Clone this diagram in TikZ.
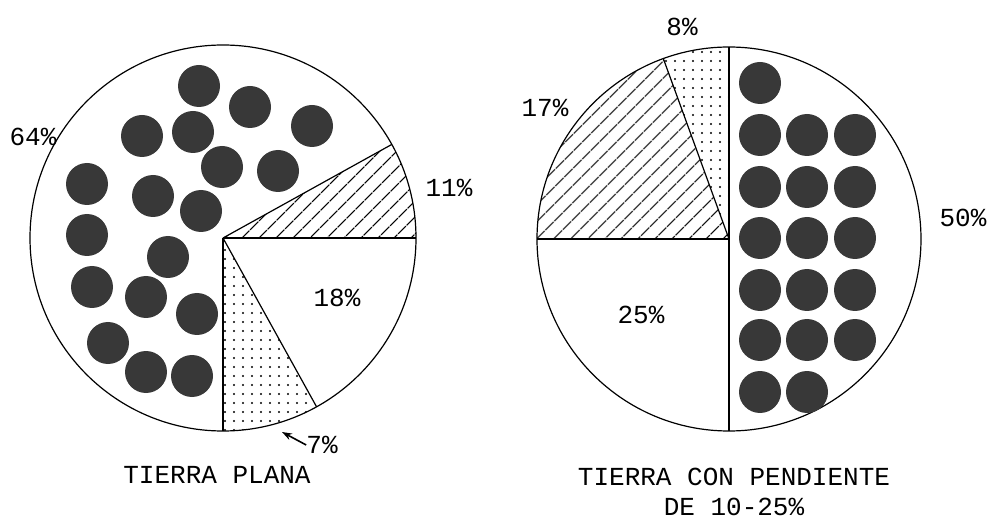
\documentclass[tikz,border=0pt]{standalone}
\usepackage{fontspec}
\newfontfamily\typefont{Liberation Mono}
\usetikzlibrary{patterns.meta, arrows.meta, positioning}

\begin{document}
\begin{tikzpicture}[x=1pt, y=1pt,
        wedge/.style={draw, line width=1.2pt},
        hatch/.style={pattern={Lines[angle=45, distance=13pt, line width=1.2pt]}},
        speckle/.style={pattern={Dots[distance=9pt, radius=1.15pt]}},
        ball/.style={fill=black!78},
        lbl/.style={font={\fontsize{26}{30}\selectfont\typefont}, inner sep=0pt},
        title/.style={lbl, align=center}
    ]
        \useasboundingbox (0,0) rectangle (988,520);

        % Tierra plana
        \coordinate (lc) at (223,282);
        \path[hatch] (lc) -- ++(0:193pt) arc (0:29:193pt) -- cycle;
        \path[speckle] (lc) -- ++(-90:193pt) arc (-90:-61:193pt) -- cycle;
        \draw[wedge] (lc) circle (193pt);
        \draw[wedge] (lc) -- ++(0:193pt);
        \draw[wedge] (lc) -- ++(29:193pt);
        \draw[wedge] (lc) -- ++(-61:193pt);
        \draw[wedge] (lc) -- ++(-90:193pt);
        \foreach \x/\y in {199/434, 250/413, 312/394, 142/384, 193/388, 222/353,
                278/349, 87/336, 153/324, 201/309, 87/285, 168/263,
                92/233, 146/223, 197/206, 108/177, 146/148, 192/144}
            \fill[ball] (\x,\y) circle (21pt);

        % Tierra con pendiente
        \coordinate (rc) at (729,281);
        \path[speckle] (rc) -- ++(90:192pt) arc (90:110:192pt) -- cycle;
        \path[hatch] (rc) -- ++(110:192pt) arc (110:180:192pt) -- cycle;
        \draw[wedge] (rc) circle (192pt);
        \draw[wedge] (rc) ++(90:192pt) -- ++(0,-384pt);
        \draw[wedge] (rc) -- ++(110:192pt);
        \draw[wedge] (rc) -- ++(180:192pt);
        \foreach \y in {385, 333, 282, 230, 180}
            \foreach \x in {760, 807, 855}
                \fill[ball] (\x,\y) circle (21pt);
        \fill[ball] (760,437) circle (21pt);
        \fill[ball] (760,128) circle (21pt);
        \fill[ball] (807,128) circle (21pt);

        % Labels
        \node[lbl] (p64) at (33,383) {64\%};
        \node[lbl] (p11) at (449,332) {11\%};
        \node[lbl] (p18) at (337,222) {18\%};
        \node[lbl] (p7) at (322,75) {7\%};
        \coordinate (tip7) at (282,88);
        \draw[-{Stealth[length=10pt, width=7pt]}, line width=1.6pt] (p7.west) -- (tip7);
        \node[lbl] (p8) at (682,493) {8\%};
        \node[lbl] (p17) at (545,412) {17\%};
        \node[lbl] (p50) at (963,302) {50\%};
        \node[lbl] (p25) at (641,205) {25\%};

        % Titles
        \node[title] (plana) at (217,45) {TIERRA PLANA};
        \node[title] (pendiente) at (734,28) {TIERRA CON PENDIENTE\\DE 10-25\%};
    \end{tikzpicture}
\end{document}
